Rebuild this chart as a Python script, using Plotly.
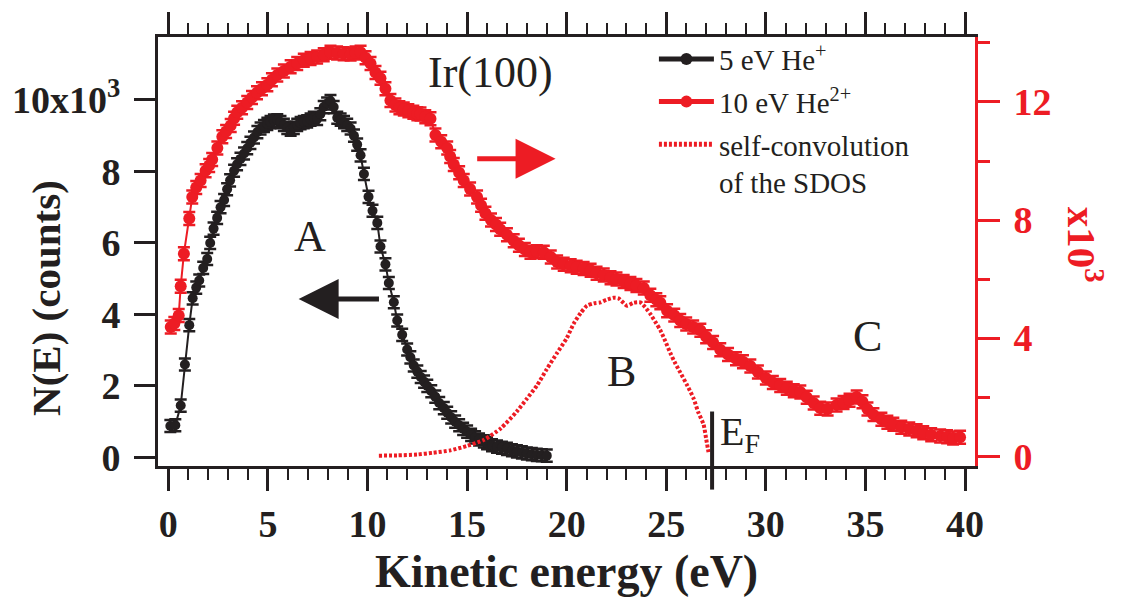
import plotly.graph_objects as go

# ---- data ----
# 5 eV He+ (left axis, counts)
he1_x = [0.10,0.35,0.62,0.83,1.05,1.22,1.40,1.55,1.75,1.95,
         2.10,2.27,2.45,2.62,2.80,2.95,3.10,3.30,3.45,3.62,
         3.80,3.96,4.12,4.30,4.47,4.63,4.80,4.97,5.13,5.30,
         5.47,5.63,5.80,5.97,6.14,6.30,6.47,6.64,6.80,6.97,
         7.14,7.30,7.47,7.63,7.80,7.97,8.14,8.30,8.48,8.65,
         8.82,8.98,9.15,9.32,9.48,9.65,9.82,10.05,10.25,10.49,
         10.65,10.90,11.07,11.32,11.49,11.74,11.99,12.15,12.32,12.50,
         12.67,12.84,13.00,13.20,13.40,13.60,13.83,14.00,14.20,14.40,
         14.60,14.80,15.00,15.20,15.40,15.60,15.84,16.00,16.25,16.50,
         16.75,17.00,17.25,17.50,17.75,18.00,18.25,18.50,18.75,19.00]
he1_y = [880,900,1450,2600,3700,4450,4750,4950,5300,5550,
         6000,6400,6700,7000,7200,7500,7750,8020,8200,8350,
         8500,8650,8800,8950,9100,9200,9270,9330,9380,9420,
         9430,9380,9300,9220,9170,9220,9300,9350,9380,9400,
         9450,9500,9470,9600,9800,9900,9970,9800,9500,9450,
         9380,9300,9200,9000,8750,8450,7930,7290,6900,6560,
         5900,5400,4880,4340,3830,3430,3020,2800,2570,2400,
         2250,2120,2000,1850,1700,1520,1380,1250,1120,1000,
         900,800,720,630,560,500,450,400,340,300,
         270,240,200,170,140,110,90,70,60,50]

# 10 eV He2+ (right axis, counts)
he2_x = [0.12,0.30,0.52,0.62,0.78,1.05,1.20,1.40,1.62,1.87,
         2.05,2.20,2.46,2.71,2.90,3.13,3.30,3.46,3.70,3.96,
         4.20,4.45,4.70,4.97,5.20,5.47,5.80,6.14,6.47,6.80,
         7.14,7.47,7.80,8.14,8.47,8.80,9.15,9.40,9.65,9.90,
         10.15,10.40,10.65,10.90,11.15,11.40,11.60,11.82,12.05,12.30,
         12.50,12.66,12.90,13.16,13.41,13.70,14.00,14.15,14.33,14.60,
         14.83,15.15,15.50,15.70,15.92,16.20,16.45,16.66,17.00,17.34,
         17.60,17.90,18.18,18.50,18.85,19.20,19.52,19.85,20.20,20.50,
         20.85,21.20,21.50,21.86,22.20,22.50,22.86,23.20,23.50,23.87,
         24.20,24.50,24.70,25.04,25.40,25.70,26.00,26.35,26.71,27.00,
         27.35,27.71,28.10,28.50,28.85,29.22,29.60,30.00,30.35,30.72,
         31.05,31.40,31.73,32.05,32.40,32.73,33.10,33.55,33.90,34.20,
         34.56,34.85,35.10,35.40,35.80,36.10,36.40,36.80,37.20,37.57,
         37.90,38.30,38.75,39.10,39.40,39.75]
he2_y = [4380,4500,4770,5760,6860,8050,8780,9100,9340,9670,
         9850,10050,10440,10820,11000,11200,11450,11650,11800,11980,
         12150,12310,12450,12580,12750,12910,13050,13190,13300,13410,
         13470,13520,13600,13680,13660,13630,13620,13660,13680,13500,
         13300,13000,12800,12450,12050,11900,11800,11760,11700,11650,
         11600,11590,11500,11430,10880,10650,10440,10150,9880,9600,
         9340,9050,8780,8500,8230,8000,7850,7690,7500,7300,
         7150,7000,6910,6930,6910,6750,6580,6500,6450,6400,
         6360,6300,6200,6140,6050,6000,5920,5850,5780,5700,
         5450,5300,5200,4930,4780,4600,4480,4380,4270,4050,
         3850,3610,3450,3300,3200,3060,2850,2650,2500,2400,
         2300,2220,2180,2000,1800,1630,1600,1740,1820,1900,
         2010,1850,1600,1410,1250,1150,1080,980,920,860,
         800,730,690,660,620,640]

# self-convolution of the SDOS (right axis scale)
sdos_x = [10.57,11.50,12.50,13.30,14.16,15.00,15.83,16.70,17.50,18.00,
          18.51,19.00,19.52,20.00,20.35,20.70,21.02,21.36,21.69,22.00,
          22.36,22.60,23.03,23.35,23.70,24.00,24.20,24.45,24.70,24.95,
          25.20,25.45,25.70,26.05,26.37,26.60,26.87,27.00,27.12]
sdos_y = [20,30,60,120,200,350,550,950,1520,1950,
          2400,2950,3500,4000,4490,4850,5100,5180,5210,5300,
          5370,5350,5100,5200,5210,5000,4820,4550,4270,3900,
          3500,3150,2840,2400,1960,1500,1080,600,140]

fermi_energy = 27.3

x_ticks = [0, 5, 10, 15, 20, 25, 30, 35, 40]
left_tickvals = [0, 2000, 4000, 6000, 8000, 10000]
left_ticktext = ["0", "2", "4", "6", "8", "10x10<sup>3</sup>"]
right_tickvals = [0, 4000, 8000, 12000]
right_ticktext = ["0", "4", "8", "12"]

# ---- style ----
BLACK = "#231F20"
RED = "#ED1C24"
SERIF = "Liberation Serif"

fig = go.Figure()

fig.add_trace(go.Scatter(
    x=he1_x, y=he1_y, mode="lines+markers", name="5 eV He<sup>+</sup>",
    line=dict(color=BLACK, width=2),
    marker=dict(color=BLACK, size=10, symbol="circle"),
    error_y=dict(type="constant", value=170, color=BLACK, thickness=2.5, width=6),
    legendgroup="a", yaxis="y"))

fig.add_trace(go.Scatter(
    x=he2_x, y=he2_y, mode="lines+markers", name="10 eV He<sup>2+</sup>",
    line=dict(color=RED, width=2),
    marker=dict(color=RED, size=12, symbol="circle"),
    error_y=dict(type="constant", value=220, color=RED, thickness=2.5, width=6),
    legendgroup="b", yaxis="y2"))

fig.add_trace(go.Scatter(
    x=sdos_x, y=sdos_y, mode="lines", name="self-convolution<br>of the SDOS",
    line=dict(color=RED, width=4, dash="3px,2px", shape="spline", smoothing=0.6),
    legendgroup="c", yaxis="y2"))

tickfont = dict(family=SERIF, size=38, color=BLACK, weight="bold")

fig.update_layout(
    width=1124, height=606,
    margin=dict(l=157, r=149, t=26, b=140),
    paper_bgcolor="white", plot_bgcolor="white",
    font=dict(family=SERIF, color=BLACK),
    showlegend=True,
    legend=dict(x=0.607, y=1.008, xanchor="left", yanchor="top",
                font=dict(family=SERIF, size=29, color=BLACK),
                bgcolor="rgba(0,0,0,0)", traceorder="grouped",
                tracegroupgap=2, valign="top", itemsizing="constant",
                itemwidth=55),
    xaxis=dict(range=[-0.52, 40.5], showgrid=False, zeroline=False,
               showline=True, linecolor=BLACK, linewidth=3, mirror="ticks",
               ticks="outside", ticklen=22, tickwidth=3, tickcolor=BLACK,
               tickvals=x_ticks, tickfont=tickfont,
               minor=dict(dtick=1, ticks="outside", ticklen=11, tickwidth=2,
                          tickcolor=BLACK, showgrid=False)),
    yaxis=dict(range=[-240, 11760], showgrid=False, zeroline=False,
               showline=True, linecolor=BLACK, linewidth=3,
               ticks="outside", ticklen=21, tickwidth=3, tickcolor=BLACK,
               tickvals=left_tickvals, ticktext=left_ticktext,
               tickfont=tickfont, ticklabelstandoff=6),
    yaxis2=dict(range=[-330, 14200], overlaying="y", side="right",
                showgrid=False, zeroline=False,
                showline=True, linecolor=RED, linewidth=3,
                ticks="outside", ticklen=22, tickwidth=3, tickcolor=RED,
                tickvals=right_tickvals, ticktext=right_ticktext,
                tickfont=dict(family=SERIF, size=38, color=RED, weight="bold"),
                ticklabelstandoff=6,
                minor=dict(dtick=2000, ticks="outside", ticklen=12,
                           tickwidth=3, tickcolor=RED, showgrid=False)),
)

# Fermi level marker
fig.add_shape(type="line", xref="x", yref="paper",
              x0=fermi_energy, x1=fermi_energy, y0=-0.055, y1=0.127,
              line=dict(color=BLACK, width=4))

ann_font = dict(family=SERIF, size=44, color=BLACK)
annots = [
    dict(text="Kinetic energy (eV)", x=0.5, y=-0.245,
         font=dict(family=SERIF, size=46, color=BLACK, weight="bold")),
    dict(text="N(E) (counts)", x=-0.137, y=0.392, textangle=-90,
         font=dict(family=SERIF, size=41, color=BLACK, weight="bold")),
    dict(text="x10<sup>3</sup>", x=1.135, y=0.515, textangle=90,
         font=dict(family=SERIF, size=41, color=RED, weight="bold")),
    dict(text="Ir(100)", x=0.407, y=0.918, font=ann_font),
    dict(text="A", x=0.186, y=0.534, font=ann_font),
    dict(text="B", x=0.567, y=0.220, font=ann_font),
    dict(text="C", x=0.869, y=0.302, font=ann_font),
    dict(text="E<sub>F</sub>", x=0.686, y=0.075, xanchor="left",
         font=dict(family=SERIF, size=40, color=BLACK)),
]
for a in annots:
    fig.add_annotation(xref="paper", yref="paper", showarrow=False,
                       xanchor=a.pop("xanchor", "center"), yanchor="middle", **a)

# direction arrows (which axis each curve belongs to)
fig.add_annotation(xref="x", yref="y", axref="x", ayref="y",
                   x=6.54, y=4430, ax=10.65, ay=4430, text="",
                   showarrow=True, arrowhead=2, arrowsize=1.6, arrowwidth=5,
                   arrowcolor=BLACK)
fig.add_annotation(xref="x", yref="y2", axref="x", ayref="y2",
                   x=19.44, y=10080, ax=15.43, ay=10080, text="",
                   showarrow=True, arrowhead=2, arrowsize=1.6, arrowwidth=5,
                   arrowcolor=RED)

fig.write_html("out.html")
